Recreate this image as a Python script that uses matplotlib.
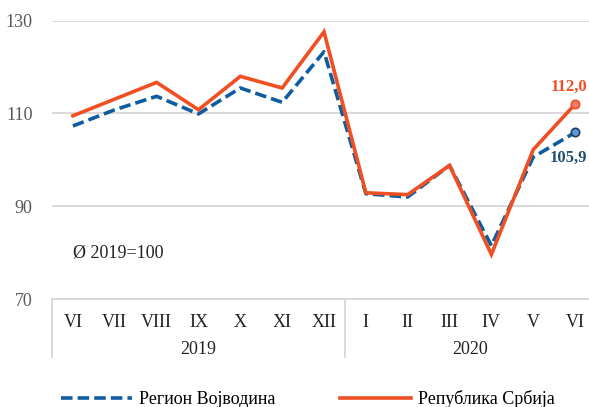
import matplotlib
matplotlib.use('Agg')
import matplotlib.pyplot as plt
import matplotlib.transforms as mtransforms

plt.rcParams['font.family'] = ['Liberation Serif', 'DejaVu Serif']

# data
months = ['VI', 'VII', 'VIII', 'IX', 'X', 'XI', 'XII',
          'I', 'II', 'III', 'IV', 'V', 'VI']
years = ['2019', '2020']
year_sizes = [7, 6]
vojvodina = [107.3, 110.8, 113.7, 109.9, 115.5, 112.4, 123.3,
             92.7, 92.0, 98.8, 81.5, 100.6, 105.9]
srbija = [109.5, 113.1, 116.7, 110.8, 118.0, 115.5, 127.6,
          92.9, 92.5, 98.8, 79.6, 102.2, 112.0]
yticks = [70, 90, 110, 130]

blue = '#0F5C9E'
red = '#F04E23'
grey = '#595959'

fig = plt.figure(figsize=(5.89, 4.07), dpi=100)
ax = fig.add_axes([52 / 589, 1 - 299 / 407, 544 / 589, 278.3 / 407])

x = list(range(len(months)))
ax.plot(x, vojvodina, color=blue, lw=2.6, ls=(0, (3.2, 1.4)),
        solid_capstyle='butt', label='Регион Војводина', zorder=3)
ax.plot(x, srbija, color=red, lw=2.6, solid_joinstyle='miter',
        label='Република Србија', zorder=4)

# end markers + labels
ax.plot(x[-1], srbija[-1], 'o', ms=6, mfc='#F47A6A', mec=red, mew=1.2, zorder=5)
ax.plot(x[-1], vojvodina[-1], 'o', ms=6, mfc='#5B9BD5', mec='#1F3F5F', mew=1.2, zorder=5)
ax.annotate('112,0', (x[-1], srbija[-1]), xytext=(8.5, 6.5), textcoords='offset points',
            ha='right', va='bottom', color=red, fontsize=12, fontweight='bold')
ax.annotate('105,9', (x[-1], vojvodina[-1]), xytext=(8.5, -12.5), textcoords='offset points',
            ha='right', va='top', color='#1F4E6E', fontsize=12, fontweight='bold')

ax.text(0, 80, 'Ø 2019=100', fontsize=13, color='#222222', va='center', ha='left')

ax.set_xlim(-0.5, len(months) - 0.5)
ax.set_ylim(70, 130)
ax.set_yticks(yticks)
ax.set_yticklabels([str(v) for v in yticks], fontsize=13, color=grey)
ax.tick_params(axis='y', length=0, pad=14)
ax.grid(axis='y', color='#D9D9D9', lw=1.4)
ax.set_axisbelow(True)
for s in ['top', 'right', 'left']:
    ax.spines[s].set_visible(False)
ax.spines['bottom'].set_color('#D9D9D9')
ax.spines['bottom'].set_linewidth(1.4)

ax.set_xticks(x)
ax.set_xticklabels(months, fontsize=13, color='#222222')
ax.tick_params(axis='x', length=0, pad=11)

# year group labels and separators
trans = mtransforms.blended_transform_factory(ax.transData, ax.transAxes)
start = -0.5
for yr, n in zip(years, year_sizes):
    ax.text(start + n / 2, -0.18, yr, transform=trans, ha='center', va='center',
            fontsize=13, color='#222222')
    start += n
edge = -0.5
for n in [0] + year_sizes:
    edge += n
    ax.plot([edge, edge], [0, -0.208], transform=trans, color='#D9D9D9',
            lw=1.4, clip_on=False)

fig.legend(loc='center', bbox_to_anchor=(308 / 589, 1 - 399 / 407), ncol=2,
           frameon=False, fontsize=13, handlelength=3.9, handletextpad=0.4,
           columnspacing=3.6)

fig.savefig('out.png', dpi=100)
